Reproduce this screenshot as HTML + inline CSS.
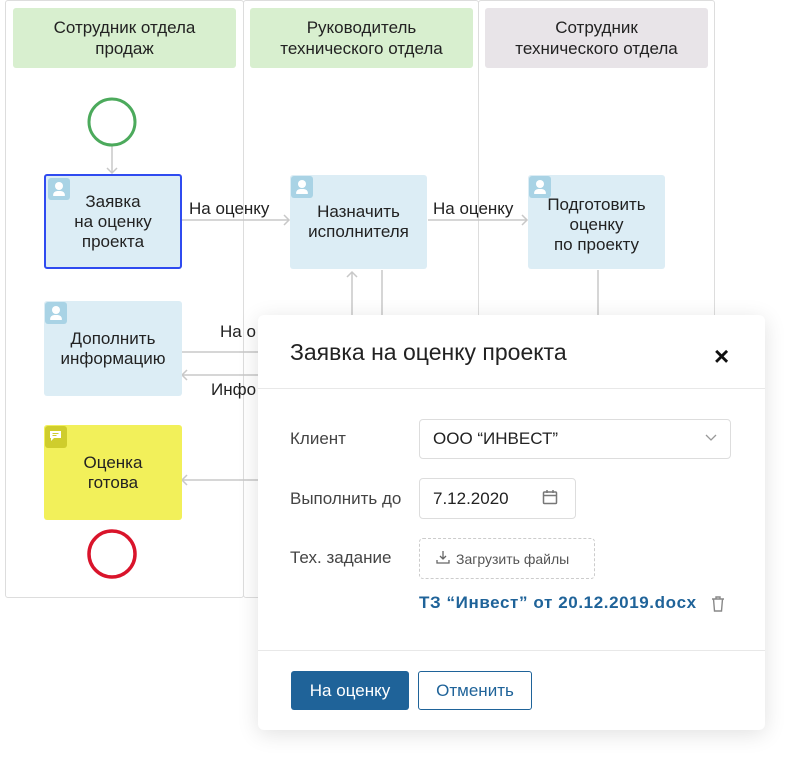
<!DOCTYPE html>
<html><head><meta charset="utf-8"><style>
*{box-sizing:border-box;margin:0;padding:0}
body{width:800px;height:765px;background:#fff;position:relative;overflow:hidden;font-family:"Liberation Sans","DejaVu Sans",sans-serif;color:#222}
.a{position:absolute}
.lane{position:absolute;top:0;height:598px;border:1px solid #ddd;border-radius:3px;background:#fff}
.hdr{position:absolute;top:8px;height:60px;border-radius:3px;display:flex;align-items:center;justify-content:center;text-align:center;font-size:17px;line-height:21px;color:#222}
.node{position:absolute;background:#dcedf5;border-radius:3px;display:flex;align-items:center;justify-content:center;text-align:center;font-size:17px;line-height:20px;color:#222}
.ic{position:absolute;left:0;top:0;width:22px;height:22px;background:#a9d3e5;border-radius:3px}
.ic::before{content:"";position:absolute;left:7px;top:4px;width:8px;height:8px;border-radius:50%;background:#fff}
.ic::after{content:"";position:absolute;left:5px;top:13px;width:12px;height:5px;border-radius:6px 6px 1px 1px;background:#fff}
.icy{position:absolute;left:1px;top:1px;width:22px;height:22px;background:#cfcd2c;border-radius:3px}
.lbl{position:absolute;font-size:17px;color:#222}
.f{position:absolute;font-size:17px;color:#444}
.inp{position:absolute;border:1px solid #ddd;border-radius:4px;background:#fff;font-size:17px;color:#222;display:flex;align-items:center;padding-left:13px}
</style></head><body>
<div class="lane" style="left:5px;width:239px"></div>
<div class="lane" style="left:243px;width:236px"></div>
<div class="lane" style="left:478px;width:237px"></div>
<div class="hdr" style="left:13px;width:223px;background:#d8efcf">Сотрудник отдела<br>продаж</div>
<div class="hdr" style="left:250px;width:223px;background:#d8efcf">Руководитель<br>технического отдела</div>
<div class="hdr" style="left:485px;width:223px;background:#e8e4e8">Сотрудник<br>технического отдела</div>

<svg class="a" style="left:0;top:0" width="800" height="765">
<g stroke="#c8c8c8" stroke-width="1.5" fill="none">
<line x1="112" y1="146" x2="112" y2="173"/><polyline points="107,168 112,173 117,168"/>
<line x1="182" y1="220" x2="289" y2="220"/><polyline points="284,215 289,220 284,225"/>
<line x1="428" y1="220" x2="527" y2="220"/><polyline points="522,215 527,220 522,225"/>
<line x1="352" y1="272" x2="352" y2="320"/><polyline points="347,277 352,272 357,277"/>
<line x1="382" y1="270" x2="382" y2="320"/>
<line x1="598" y1="270" x2="598" y2="320"/>
<line x1="182" y1="352" x2="260" y2="352"/>
<line x1="182" y1="375" x2="260" y2="375"/><polyline points="187,370 182,375 187,380"/>
<line x1="182" y1="480" x2="260" y2="480"/><polyline points="187,475 182,480 187,485"/>
</g>
<circle cx="112" cy="122" r="23" fill="#fff" stroke="#4caa5c" stroke-width="3"/>
<circle cx="112" cy="554" r="23" fill="#fff" stroke="#d9142b" stroke-width="3.5"/>
</svg>

<div class="node" style="left:44px;top:174px;width:138px;height:95px;border:2px solid #2f4bf0;"><div class="ic" style="left:2px;top:2px"></div>Заявка<br>на оценку<br>проекта</div>
<div class="node" style="left:290px;top:175px;width:137px;height:94px"><div class="ic" style="left:1px;top:1px"></div>Назначить<br>исполнителя</div>
<div class="node" style="left:528px;top:175px;width:137px;height:94px;padding-top:6px"><div class="ic" style="left:1px;top:1px"></div>Подготовить<br>оценку<br>по проекту</div>
<div class="node" style="left:44px;top:301px;width:138px;height:95px"><div class="ic" style="left:1px;top:1px"></div>Дополнить<br>информацию</div>
<div class="node" style="left:44px;top:425px;width:138px;height:95px;background:#f2f05a"><div class="icy"></div>Оценка<br>готова</div>
<svg class="a" style="left:49px;top:430px" width="14" height="13"><path d="M1 1h11v7H5l-3 3V8H1z" fill="#fff"/><line x1="3.5" y1="3.5" x2="9.5" y2="3.5" stroke="#cfcd2c" stroke-width="1"/><line x1="3.5" y1="5.5" x2="7.5" y2="5.5" stroke="#cfcd2c" stroke-width="1"/></svg>

<div class="lbl" style="left:189px;top:199px">На оценку</div>
<div class="lbl" style="left:433px;top:199px">На оценку</div>
<div class="lbl" style="left:220px;top:322px">На о</div>
<div class="lbl" style="left:211px;top:380px">Инфо</div>

<div class="a" style="left:258px;top:315px;width:507px;height:415px;background:#fff;border-radius:6px;box-shadow:0 4px 22px rgba(0,0,0,0.12)">
  <div class="a" style="left:32px;top:24px;font-size:23px;color:#222">Заявка на оценку проекта</div>
  <div class="a" style="left:456px;top:28px;font-size:26px;font-weight:bold;color:#111;line-height:26px">×</div>
  <div class="a" style="left:0;top:73px;width:507px;height:1px;background:#e8e8e8"></div>
  <div class="f" style="left:32px;top:114px">Клиент</div>
  <div class="f" style="left:32px;top:174px">Выполнить до</div>
  <div class="f" style="left:32px;top:233px">Тех. задание</div>
  <div class="a" style="left:0;top:335px;width:507px;height:1px;background:#e8e8e8"></div>
  <div class="a" style="left:33px;top:356px;width:118px;height:39px;background:#1f6399;border-radius:3px;color:#fff;font-size:17px;display:flex;align-items:center;justify-content:center">На оценку</div>
  <div class="a" style="left:160px;top:356px;width:114px;height:39px;border:1px solid #1f6399;border-radius:3px;color:#1f6399;font-size:17px;display:flex;align-items:center;justify-content:center;background:#fff">Отменить</div>
</div>
<div class="inp" style="left:419px;top:419px;width:312px;height:40px">ООО “ИНВЕСТ”</div>
<svg class="a" style="left:705px;top:434px" width="12" height="8"><polyline points="1,1 6,6 11,1" fill="none" stroke="#999" stroke-width="1.3"/></svg>
<div class="inp" style="left:419px;top:478px;width:157px;height:41px">7.12.2020</div>
<svg class="a" style="left:542px;top:489px" width="16" height="16"><rect x="1.5" y="3" width="13" height="11.5" rx="1" fill="none" stroke="#777" stroke-width="1.5"/><line x1="1.5" y1="6.5" x2="14.5" y2="6.5" stroke="#777" stroke-width="1.5"/><line x1="5" y1="1" x2="5" y2="4" stroke="#777" stroke-width="1.5"/><line x1="11" y1="1" x2="11" y2="4" stroke="#777" stroke-width="1.5"/></svg>
<div class="a" style="left:419px;top:538px;width:176px;height:41px;border:1px dashed #ccc;border-radius:4px;font-size:14px;color:#555;display:flex;align-items:center;padding-left:36px">Загрузить файлы</div>
<svg class="a" style="left:436px;top:550px" width="14" height="14"><path d="M7 1v8M4 6l3 3 3-3M1 10v3h12v-3" fill="none" stroke="#666" stroke-width="1.3"/></svg>
<div class="a" style="left:419px;top:593px;font-size:17px;font-weight:bold;color:#1f6399;letter-spacing:0.6px">ТЗ “Инвест” от 20.12.2019.docx</div>
<svg class="a" style="left:710px;top:595px" width="16" height="18"><path d="M2 4h12M6 4V2h4v2M3.5 4l1 12h7l1-12" fill="none" stroke="#888" stroke-width="1.4"/></svg>
</body></html>
